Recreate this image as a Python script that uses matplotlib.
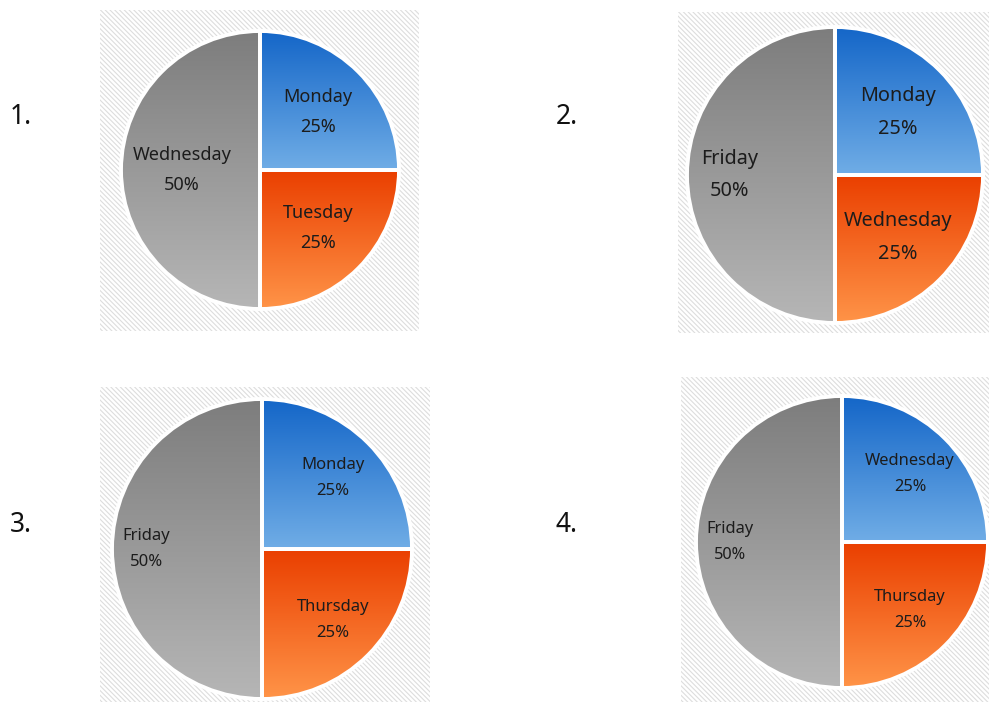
import matplotlib.pyplot as plt
import numpy as np
from matplotlib.colors import LinearSegmentedColormap
from matplotlib.patches import Rectangle

# data for the four pies (same slice shares, different day names)
chart_numbers = ['1.', '2.', '3.', '4.']
day_labels = [
    ['Monday', 'Tuesday', 'Wednesday'],
    ['Monday', 'Wednesday', 'Friday'],
    ['Monday', 'Thursday', 'Friday'],
    ['Wednesday', 'Thursday', 'Friday'],
]
shares = [25, 25, 50]

# gradients top -> bottom for each slice
grad_colors = [('#1466c8', '#70ade6'), ('#ea3f00', '#ff9448'), ('#7d7d7d', '#b6b6b6')]

W, H = 989, 702

# layout in pixels: background box (x0, y0, x1, y1), pie centre, radius
boxes = [(100, 10, 419, 331), (678, 12, 989, 333), (100, 387, 430, 702), (681, 377, 989, 702)]
centres = [(260, 170), (835, 175), (262, 549), (842, 542)]
radii = [139, 148, 150, 146]
font_sizes = [13, 14.3, 12, 11.8]
label_dist = [(0.59, 0.56), (0.6, 0.71), (0.67, 0.77), (0.66, 0.77)]
number_pos = [(10, 117), (556, 117), (10, 525), (556, 525)]

plt.rcParams['font.family'] = ['Noto Sans', 'DejaVu Sans']
plt.rcParams['hatch.linewidth'] = 0.8

fig = plt.figure(figsize=(W / 100, H / 100), dpi=100)
bg = fig.add_axes([0, 0, 1, 1])
bg.set_xlim(0, W)
bg.set_ylim(H, 0)
bg.axis('off')

for (x0, y0, x1, y1) in boxes:
    bg.add_patch(Rectangle((x0, y0), x1 - x0, y1 - y0, facecolor='white',
                           edgecolor='#dddddd', linewidth=0, hatch='\\' * 7))

for num, (nx, ny) in zip(chart_numbers, number_pos):
    bg.text(nx, ny, num, fontsize=19, ha='left', va='center', color='#111111')

for i in range(4):
    cx, cy = centres[i]
    r = radii[i]
    pad = 1.04
    R = r * pad
    ax = fig.add_axes([(cx - R) / W, 1 - (cy + R) / H, 2 * R / W, 2 * R / H])
    wedges, _ = ax.pie(shares, startangle=90, counterclock=False, radius=1,
                       wedgeprops=dict(facecolor='none', edgecolor='white', linewidth=2.8))
    grad = np.linspace(0, 1, 256).reshape(-1, 1)
    for j, w in enumerate(wedges):
        ext = w.get_path().get_extents()
        cmap = LinearSegmentedColormap.from_list('g', grad_colors[j])
        im = ax.imshow(grad, cmap=cmap, extent=(ext.x0, ext.x1, ext.y0, ext.y1),
                       origin='upper', aspect='auto', zorder=0.5)
        im.set_clip_path(w)
        mid = np.deg2rad((w.theta1 + w.theta2) / 2)
        d = label_dist[i][1] if shares[j] >= 50 else label_dist[i][0]
        ax.text(d * np.cos(mid), d * np.sin(mid), f'{day_labels[i][j]}\n{shares[j]}%',
                ha='center', va='center', fontsize=font_sizes[i], color='#1c1c1c',
                linespacing=1.85)
    ax.set_xlim(-pad, pad)
    ax.set_ylim(-pad, pad)
    ax.set_aspect('equal')
    ax.axis('off')

fig.savefig('out.png', dpi=100)
